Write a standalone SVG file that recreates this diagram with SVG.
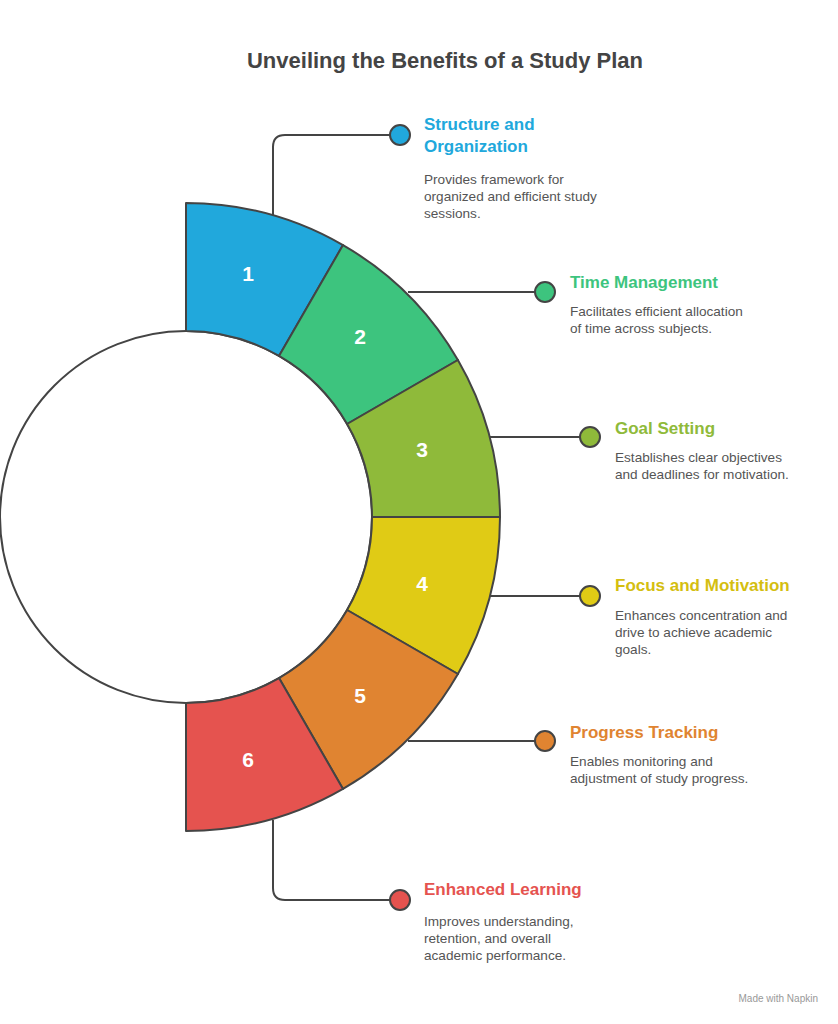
<svg xmlns="http://www.w3.org/2000/svg" width="838" height="1024" viewBox="0 0 838 1024">
<style>
.seg{stroke:#444;stroke-width:2;stroke-linejoin:round}
.num{font:bold 21px "Liberation Sans",Arial,sans-serif;fill:#fff;text-anchor:middle}
.t{font:bold 17px "Liberation Sans",Arial,sans-serif}
.d{font:13.6px "Liberation Sans",Arial,sans-serif;fill:#555}
.c{fill:none;stroke:#444;stroke-width:2}
.dot{stroke:#444;stroke-width:2}
</style>
<rect width="838" height="1024" fill="#fff"/>
<text x="445" y="68" text-anchor="middle" style="font:bold 22px 'Liberation Sans',Arial,sans-serif;fill:#444">Unveiling the Benefits of a Study Plan</text>
<g id="connectors">
<path class="c" d="M273 215 V147 Q273 135 285 135 H400"/>
<path class="c" d="M408 292 H545"/>
<path class="c" d="M490 437 H590"/>
<path class="c" d="M490 596 H590"/>
<path class="c" d="M408 741 H545"/>
<path class="c" d="M273 820 V888 Q273 900 285 900 H400"/>
</g>
<circle cx="186" cy="517" r="186" fill="#fff" stroke="#444" stroke-width="2"/>
<g id="node1"><path class="seg" fill="#21A8DC" d="M186 331 L186 203 A314 314 0 0 1 343 245.1 L279 355.9 A186 186 0 0 0 186 331Z"/><text class="num" x="248" y="281">1</text>
<circle class="dot" cx="400" cy="135" r="10" fill="#21A8DC"/><text class="t" x="424" y="130" fill="#21A8DC">Structure and</text><text class="t" x="424" y="152" fill="#21A8DC">Organization</text>
<text class="d" x="424" y="184">Provides framework for</text><text class="d" x="424" y="201">organized and efficient study</text><text class="d" x="424" y="218">sessions.</text></g>
<g id="node2"><path class="seg" fill="#3DC47E" d="M279 355.9 L343 245.1 A314 314 0 0 1 457.9 360 L347.1 424 A186 186 0 0 0 279 355.9Z"/><text class="num" x="360" y="344">2</text>
<circle class="dot" cx="545" cy="292" r="10" fill="#3DC47E"/><text class="t" x="570" y="288" fill="#3DC47E">Time Management</text>
<text class="d" x="570" y="316">Facilitates efficient allocation</text><text class="d" x="570" y="333">of time across subjects.</text></g>
<g id="node3"><path class="seg" fill="#8FBA3A" d="M347.1 424 L457.9 360 A314 314 0 0 1 500 517 L372 517 A186 186 0 0 0 347.1 424Z"/><text class="num" x="422" y="457">3</text>
<circle class="dot" cx="590" cy="437" r="10" fill="#8FBA3A"/><text class="t" x="615" y="434" fill="#8FBA3A">Goal Setting</text>
<text class="d" x="615" y="462">Establishes clear objectives</text><text class="d" x="615" y="479">and deadlines for motivation.</text></g>
<g id="node4"><path class="seg" fill="#E0CB15" d="M372 517 L500 517 A314 314 0 0 1 457.9 674 L347.1 610 A186 186 0 0 0 372 517Z"/><text class="num" x="422" y="591">4</text>
<circle class="dot" cx="590" cy="596" r="10" fill="#E0CB15"/><text class="t" x="615" y="591" fill="#D4BE10">Focus and Motivation</text>
<text class="d" x="615" y="620">Enhances concentration and</text><text class="d" x="615" y="637">drive to achieve academic</text><text class="d" x="615" y="654">goals.</text></g>
<g id="node5"><path class="seg" fill="#E08431" d="M347.1 610 L457.9 674 A314 314 0 0 1 343 788.9 L279 678.1 A186 186 0 0 0 347.1 610Z"/><text class="num" x="360" y="703">5</text>
<circle class="dot" cx="545" cy="741" r="10" fill="#E08431"/><text class="t" x="570" y="738" fill="#E08431">Progress Tracking</text>
<text class="d" x="570" y="766">Enables monitoring and</text><text class="d" x="570" y="783">adjustment of study progress.</text></g>
<g id="node6"><path class="seg" fill="#E5534F" d="M279 678.1 L343 788.9 A314 314 0 0 1 186 831 L186 703 A186 186 0 0 0 279 678.1Z"/><text class="num" x="248" y="767">6</text>
<circle class="dot" cx="400" cy="900" r="10" fill="#E5534F"/><text class="t" x="424" y="895" fill="#E5534F">Enhanced Learning</text>
<text class="d" x="424" y="926">Improves understanding,</text><text class="d" x="424" y="943">retention, and overall</text><text class="d" x="424" y="960">academic performance.</text></g>
<text x="818" y="1002" text-anchor="end" style="font:10px 'Liberation Sans',Arial,sans-serif;fill:#999">Made with Napkin</text>
</svg>
